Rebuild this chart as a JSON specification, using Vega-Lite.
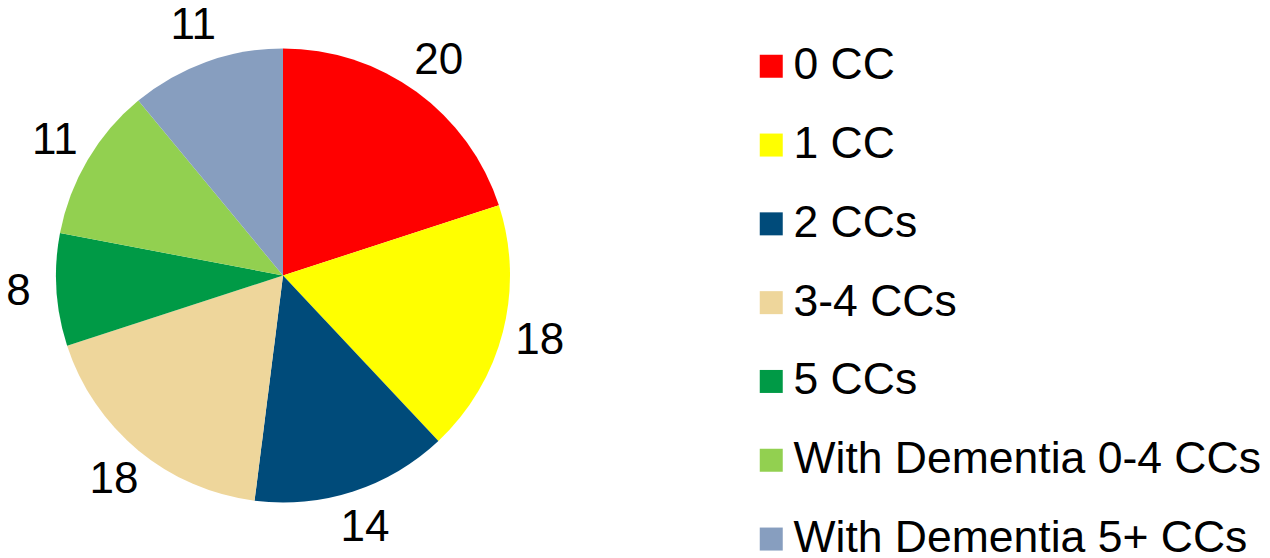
{
  "$schema": "https://vega.github.io/schema/vega-lite/v6.json",
  "width": 566,
  "height": 551,
  "padding": {"left": 0, "top": 0, "right": 704, "bottom": 7},
  "autosize": {"type": "none"},
  "background": "white",
  "config": {"view": {"stroke": null}, "font": "Liberation Sans"},
  "data": {"values": [
    {"idx": 1, "category": "0 CC", "value": 20},
    {"idx": 2, "category": "1 CC", "value": 18},
    {"idx": 3, "category": "2 CCs", "value": 14},
    {"idx": 4, "category": "3-4 CCs", "value": 18},
    {"idx": 5, "category": "5 CCs", "value": 8},
    {"idx": 6, "category": "With Dementia 0-4 CCs", "value": 11},
    {"idx": 7, "category": "With Dementia 5+ CCs", "value": 11}
  ]},
  "encoding": {
    "theta": {"field": "value", "type": "quantitative", "stack": true},
    "order": {"field": "idx", "type": "quantitative", "sort": "ascending"}
  },
  "layer": [
    {
      "mark": {"type": "arc", "radius": 227},
      "encoding": {
        "color": {
          "field": "category", "type": "nominal",
          "scale": {
            "domain": ["0 CC", "1 CC", "2 CCs", "3-4 CCs", "5 CCs", "With Dementia 0-4 CCs", "With Dementia 5+ CCs"],
            "range": ["#FF0000", "#FFFF00", "#004B7A", "#EED69B", "#009A46", "#92D050", "#879EBF"]
          },
          "legend": {
            "title": null,
            "orient": "none",
            "legendX": 749,
            "legendY": 44,
            "symbolType": "square",
            "symbolSize": 529,
            "symbolStrokeWidth": 0,
            "labelFont": "Liberation Sans",
            "labelFontSize": 44.5,
            "labelColor": "black",
            "labelOffset": 0,
            "rowPadding": 33.8,
            "labelLimit": 600
          }
        }
      }
    },
    {
      "mark": {"type": "text", "radius": 265, "fontSize": 44, "font": "Liberation Sans", "color": "black"},
      "encoding": {
        "text": {"field": "value", "type": "quantitative"}
      }
    }
  ]
}
